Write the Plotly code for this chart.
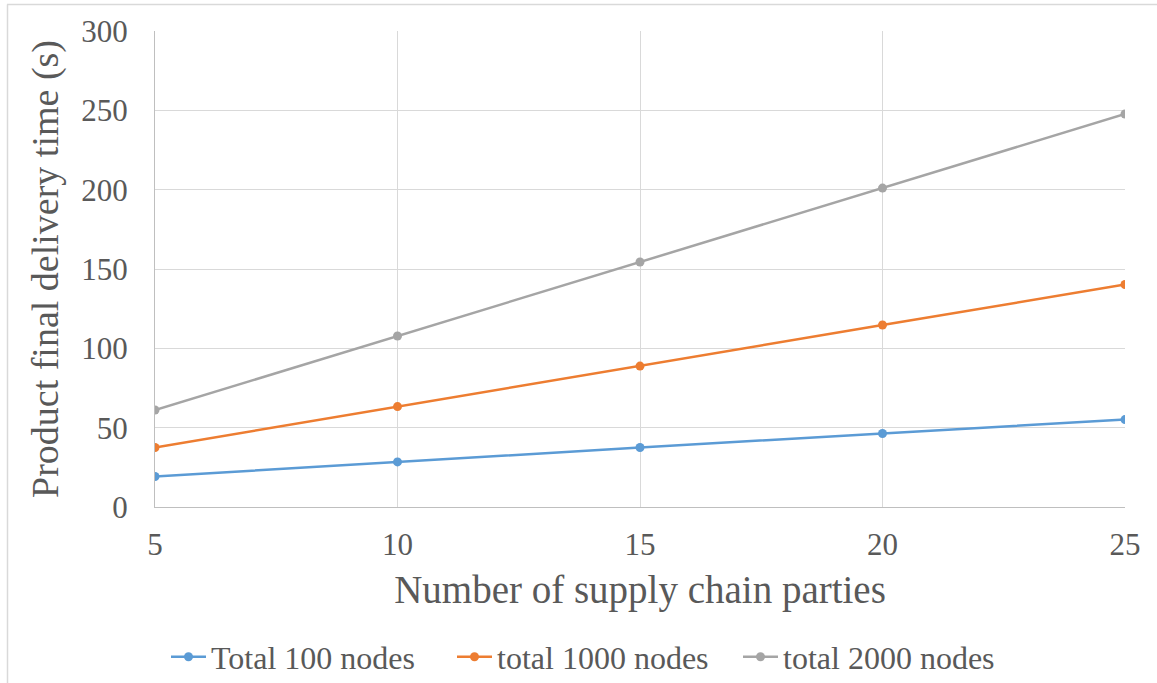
import plotly.graph_objects as go

parties = [5, 10, 15, 20, 25]
total_100 = [19.2, 28.4, 37.5, 46.3, 55.1]
total_1000 = [37.5, 63.3, 88.8, 114.7, 140.2]
total_2000 = [61.1, 107.8, 154.4, 201.0, 247.7]
names = ["Total 100 nodes", "total 1000 nodes", "total 2000 nodes"]
colors = ["#5B9BD5", "#ED7D31", "#A5A5A5"]

fig = go.Figure()
for name, vals, c in zip(names, [total_100, total_1000, total_2000], colors):
    fig.add_trace(go.Scatter(x=parties, y=vals, name=name, mode="lines+markers",
                             line=dict(color=c, width=2.5),
                             marker=dict(color=c, size=9)))

W, L = 970, 155
H, B = 476, 507
px = lambda x: (x - L) / W
py = lambda y: (B - y) / H

font_family = "Liberation Serif"
fig.update_layout(
    width=1157, height=683,
    margin=dict(l=155, r=32, t=31, b=176, autoexpand=False),
    paper_bgcolor="white", plot_bgcolor="white",
    font=dict(family=font_family, color="#595959", size=31),
    showlegend=True,
    legend=dict(orientation="h", x=px(166), xanchor="left", y=py(657), yanchor="middle",
                font=dict(size=32, color="#595959"), itemwidth=35, tracegroupgap=0,
                entrywidth=236, entrywidthmode="pixels", bgcolor="rgba(0,0,0,0)"),
    xaxis=dict(range=[5, 25], tickvals=parties, showgrid=True, gridcolor="#D9D9D9",
               gridwidth=1, showline=True, linecolor="#BFBFBF", linewidth=1,
               zeroline=False, ticks="", tickfont=dict(size=31), ticklabelstandoff=10,
               title=dict(text="Number of supply chain parties", font=dict(size=39), standoff=14)),
    yaxis=dict(range=[0, 300], dtick=50, showgrid=True, gridcolor="#D9D9D9",
               gridwidth=1, showline=True, linecolor="#BFBFBF", linewidth=1,
               zeroline=False, ticks="", tickfont=dict(size=31), ticklabelstandoff=20,
               title=dict(text="Product final delivery time (s)", font=dict(size=38), standoff=10)),
    shapes=[
        dict(type="line", xref="paper", yref="paper", x0=px(7), x1=px(1157),
             y0=py(4.5), y1=py(4.5), line=dict(color="#D9D9D9", width=1.5)),
        dict(type="line", xref="paper", yref="paper", x0=px(7.5), x1=px(7.5),
             y0=py(4.5), y1=py(683), line=dict(color="#D9D9D9", width=1.5)),
    ],
)

fig.write_html("out.html")
